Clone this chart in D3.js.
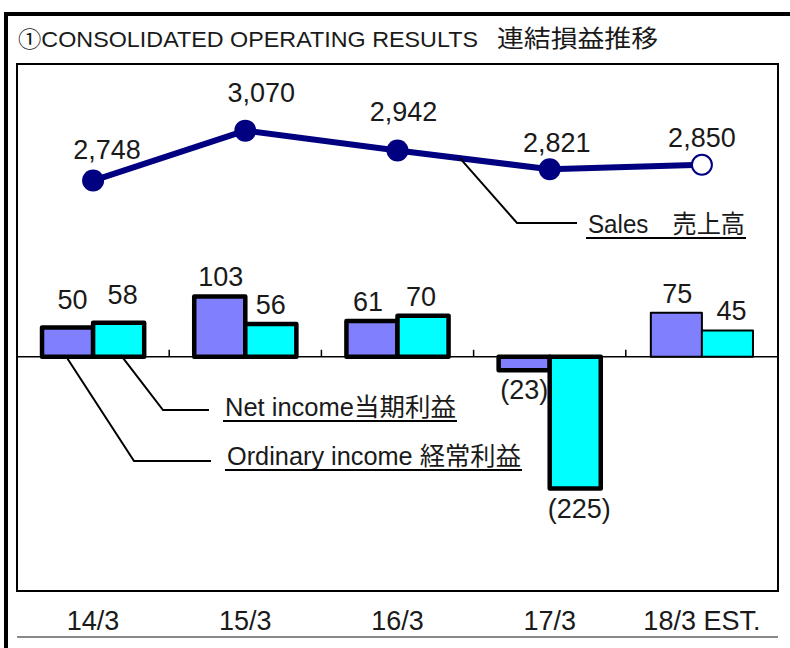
<!DOCTYPE html>
<html><head><meta charset="utf-8">
<script src="https://cdn.jsdelivr.net/npm/d3@7"></script>
<style>
html,body{margin:0;padding:0;background:#fff;}
svg{display:block;}
text{font-family:"Liberation Sans","Noto Sans CJK JP",sans-serif;fill:#1a1a1a;}
</style></head>
<body>
<script>
// ---- data ----
const categories = ["14/3", "15/3", "16/3", "17/3", "18/3 EST."];
const sales = [2748, 3070, 2942, 2821, 2850];
const ordinaryIncome = [50, 103, 61, -23, 75];
const netIncome = [58, 56, 70, -225, 45];
const isEstimate = [false, false, false, false, true];
const titleText = "①CONSOLIDATED OPERATING RESULTS";
const titleJa = "連結損益推移";
const salesLabel = "Sales\u3000売上高";
const netLabel = "Net income当期利益";
const ordLabel = "Ordinary income 経常利益";

// ---- layout (label nudges, not data) ----
const salesLabelNudge = [[14, -22], [16, -29], [6, -29], [7, -17], [0, -18]];
const ordLabelNudge = [[5, -9], [1, 0], [-4, 0], [0, 0], [1, 0]];
const netLabelNudge = [[4, -9], [0, 0], [-2, 0], [4, 0], [4, 0]];

const W = 790, H = 648;
const plot = {left: 17, right: 778, top: 64, bottom: 591};

const svg = d3.select("body").append("svg").attr("width", W).attr("height", H);

// outer frame
svg.append("path").attr("d", `M4,14H${W}M6,12V${H}`).attr("stroke", "#000").attr("stroke-width", 4).attr("fill", "none");

// title
svg.append("text").attr("x", 18).attr("y", 47).attr("font-size", 22)
  .attr("textLength", 460).attr("lengthAdjust", "spacingAndGlyphs").text(titleText);
svg.append("text").attr("x", 497).attr("y", 47).attr("font-size", 24)
  .style("font-family", "'Noto Sans CJK JP',sans-serif")
  .attr("textLength", 161).attr("lengthAdjust", "spacingAndGlyphs").text(titleJa);

// plot frame
svg.append("rect").attr("x", plot.left).attr("y", plot.top)
  .attr("width", plot.right - plot.left).attr("height", plot.bottom - plot.top)
  .attr("fill", "#fff").attr("stroke", "#000").attr("stroke-width", 2);

// scales
const x = d3.scaleBand().domain(categories).range([plot.left, plot.right]);
const xi = d3.scaleBand().domain(["ord", "net"]).range([0, x.bandwidth()]).paddingOuter(0.49);
const ySales = d3.scaleLinear().domain([100, 3500]).range([plot.bottom, plot.top]);
const yBar = d3.scaleLinear().domain([-400, 500]).range([plot.bottom, plot.top]);
const cx = c => x(c) + x.bandwidth() / 2;

// zero line + boundary ticks
const y0 = yBar(0);
svg.append("line").attr("x1", plot.left).attr("x2", plot.right).attr("y1", y0).attr("y2", y0)
  .attr("stroke", "#000").attr("stroke-width", 1.5);
categories.slice(1).forEach(c => {
  svg.append("line").attr("x1", x(c)).attr("x2", x(c)).attr("y1", y0).attr("y2", y0 - 7)
    .attr("stroke", "#000").attr("stroke-width", 1.5);
});

// bars
const barData = [];
categories.forEach((c, i) => {
  barData.push({c, key: "ord", v: ordinaryIncome[i], est: isEstimate[i], nudge: ordLabelNudge[i], color: "#8080ff"});
  barData.push({c, key: "net", v: netIncome[i], est: isEstimate[i], nudge: netLabelNudge[i], color: "#00ffff"});
});
const bw = xi.bandwidth();
svg.append("g").selectAll("rect").data(barData).join("rect")
  .attr("x", d => x(d.c) + xi(d.key))
  .attr("width", bw)
  .attr("y", d => Math.min(yBar(d.v), y0))
  .attr("height", d => Math.abs(yBar(d.v) - y0))
  .attr("fill", d => d.color)
  .attr("stroke", "#000")
  .attr("stroke-width", d => d.est ? 2 : 4.5)
  .attr("stroke-linejoin", "round");

const fmtBar = v => v < 0 ? `(${d3.format(",")(-v)})` : d3.format(",")(v);
svg.append("g").selectAll("text").data(barData).join("text")
  .attr("x", d => x(d.c) + xi(d.key) + bw / 2 + d.nudge[0])
  .attr("y", d => d.v >= 0 ? yBar(d.v) - 10 + d.nudge[1] : yBar(d.v) + 29 + d.nudge[1])
  .attr("text-anchor", "middle").attr("font-size", 27)
  .text(d => fmtBar(d.v));

// sales line
const pts = categories.map((c, i) => [cx(c), ySales(sales[i])]);
svg.append("path").attr("d", d3.line()(pts)).attr("fill", "none")
  .attr("stroke", "#000080").attr("stroke-width", 6).attr("stroke-linejoin", "round");
svg.append("g").selectAll("circle").data(categories).join("circle")
  .attr("cx", c => cx(c)).attr("cy", (c, i) => ySales(sales[i]))
  .attr("r", (c, i) => isEstimate[i] ? 10 : 11)
  .attr("fill", (c, i) => isEstimate[i] ? "#fff" : "#000080")
  .attr("stroke", "#000080").attr("stroke-width", (c, i) => isEstimate[i] ? 2 : 0);
svg.append("g").selectAll("text").data(categories).join("text")
  .attr("x", (c, i) => cx(c) + salesLabelNudge[i][0])
  .attr("y", (c, i) => ySales(sales[i]) + salesLabelNudge[i][1])
  .attr("text-anchor", "middle").attr("font-size", 27)
  .text((c, i) => d3.format(",")(sales[i]));

// callouts
function callout(p0, p1, p2, label, tx, ty, tlen, uy) {
  svg.append("path").attr("d", d3.line()([p0, p1, p2])).attr("fill", "none")
    .attr("stroke", "#000").attr("stroke-width", 2);
  svg.append("text").attr("x", tx).attr("y", ty).attr("font-size", 25)
    .attr("textLength", tlen).attr("lengthAdjust", "spacingAndGlyphs").text(label);
  svg.append("line").attr("x1", tx - 2).attr("x2", tx + tlen + 1).attr("y1", uy).attr("y2", uy)
    .attr("stroke", "#000").attr("stroke-width", 2);
}
// sales leader starts on the line segment between 16/3 and 17/3
const t = 0.41;
const sp = [pts[2][0] + (pts[3][0] - pts[2][0]) * t, pts[2][1] + (pts[3][1] - pts[2][1]) * t];
callout(sp, [517, 223], [577, 223], salesLabel, 588, 233, 157, 238);
const netStart = [x(categories[0]) + xi("net") + bw / 2 + 2, y0 - 2];
callout(netStart, [163, 410], [209, 410], netLabel, 225, 416, 231, 421);
const ordStart = [x(categories[0]) + xi("ord") + bw / 2, y0 + 2];
callout(ordStart, [134, 461], [211, 461], ordLabel, 227, 465, 294, 470);

// category labels
svg.append("g").selectAll("text").data(categories).join("text")
  .attr("x", c => cx(c)).attr("y", 630).attr("text-anchor", "middle").attr("font-size", 27)
  .text(c => c);
svg.append("line").attr("x1", plot.left).attr("x2", plot.right).attr("y1", 637).attr("y2", 637)
  .attr("stroke", "#888").attr("stroke-width", 2);
</script>
</body></html>
